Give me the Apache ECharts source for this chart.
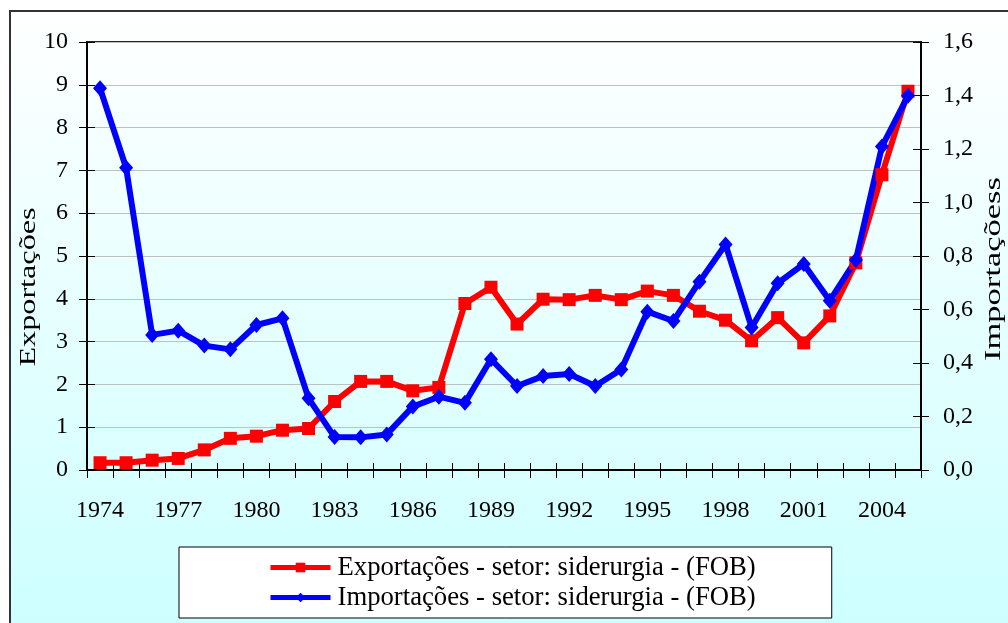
<!DOCTYPE html>
<html>
<head>
<meta charset="utf-8">
<script src="https://cdn.jsdelivr.net/npm/echarts@6/dist/echarts.min.js"></script>
<style>html,body{margin:0;padding:0;background:#fff}#c{width:1008px;height:623px}</style>
</head>
<body>
<div id="c"></div>
<script>
const years = [1974,1975,1976,1977,1978,1979,1980,1981,1982,1983,1984,1985,1986,1987,1988,1989,1990,1991,1992,1993,1994,1995,1996,1997,1998,1999,2000,2001,2002,2003,2004,2005];
const exportacoes = [0.17,0.17,0.23,0.27,0.47,0.74,0.79,0.93,0.97,1.60,2.07,2.07,1.85,1.93,3.89,4.27,3.41,3.99,3.98,4.08,3.98,4.18,4.08,3.71,3.50,3.02,3.56,2.97,3.60,4.84,6.90,8.85];
const importacoes = [1.427,1.13,0.505,0.521,0.465,0.451,0.542,0.567,0.268,0.123,0.122,0.133,0.237,0.274,0.251,0.414,0.314,0.351,0.359,0.314,0.376,0.592,0.557,0.704,0.843,0.533,0.698,0.770,0.633,0.785,1.209,1.399];
const leftTicks = [0,1,2,3,4,5,6,7,8,9,10];
const rightTicks = ['0,0','0,2','0,4','0,6','0,8','1,0','1,2','1,4','1,6'];
const nameExp = 'Exportações - setor: siderurgia - (FOB)';
const nameImp = 'Importações - setor: siderurgia - (FOB)';

const FONT = 'Liberation Serif';
const chart = echarts.init(document.getElementById('c'), null, {renderer:'canvas'});
chart.setOption({
  animation: false,
  textStyle: {fontFamily: FONT, color: '#000'},
  graphic: [
    {type:'rect', z:-10, silent:true, shape:{x:10,y:11,width:1010,height:630},
     style:{fill:new echarts.graphic.LinearGradient(0,0,0,1,[{offset:0,color:'#ffffff'},{offset:1,color:'#ccffff'}]), stroke:'#333', lineWidth:2}},
    {type:'text', x:29, y:287, rotation:Math.PI/2, scaleX:1.4, style:{text:'Exportações', font:'23px "Liberation Serif"', fill:'#000', align:'center', verticalAlign:'middle'}},
    {type:'text', x:994, y:269, rotation:Math.PI/2, scaleX:1.5, style:{text:'Importaçõess', font:'23px "Liberation Serif"', fill:'#000', align:'center', verticalAlign:'middle'}}
  ],
  grid: {left:87, top:42, right:87, bottom:153, show:true, borderColor:'#222', borderWidth:2, backgroundColor:'transparent'},
  legend: {
    orient:'vertical', left:179, top:547,
    padding:[7,76,7,89], itemGap:3, itemWidth:60, itemHeight:12,
    borderColor:'#000', borderWidth:1, backgroundColor:'#ffffff',
    lineStyle:{width:5},
    textStyle:{fontFamily:FONT, fontSize:26.7, lineHeight:26, color:'#000', padding:[0,0,0,2]},
    data:[nameExp, nameImp]
  },
  xAxis: [{
    type:'category', data:years, boundaryGap:true,
    axisLine:{lineStyle:{color:'#000', width:2}},
    axisTick:{show:true, length:8, lineStyle:{color:'#000'}, interval:0},
    axisLabel:{interval:2, margin:29, fontSize:24, fontFamily:FONT, color:'#000'},
    splitLine:{show:false}
  },{
    type:'category', data:years, boundaryGap:true, position:'bottom',
    axisLine:{show:false},
    axisTick:{show:true, inside:true, length:7, lineStyle:{color:'#000'}, interval:0},
    axisLabel:{show:false}, splitLine:{show:false}
  }],
  yAxis: [{
    type:'value', min:0, max:10, interval:1, position:'left',
    axisLine:{show:true, lineStyle:{color:'#000', width:2}},
    axisTick:{show:true, length:8, lineStyle:{color:'#000'}},
    axisLabel:{margin:19, fontSize:24, fontFamily:FONT, color:'#000',
      formatter:(v)=>String(leftTicks[Math.round(v)])},
    splitLine:{show:true, lineStyle:{color:'#c0c0c0', width:1}}
  },{
    type:'value', min:0, max:1.6, interval:0.2, position:'right',
    axisLine:{show:true, lineStyle:{color:'#000', width:2}},
    axisTick:{show:true, length:8, lineStyle:{color:'#000'}},
    axisLabel:{margin:22, fontSize:24, fontFamily:FONT, color:'#000',
      formatter:(v)=>rightTicks[Math.round(v/0.2)]},
    splitLine:{show:false}
  },{
    type:'value', min:0, max:10, interval:1, position:'left',
    axisLine:{show:false}, axisTick:{show:true, inside:true, length:8, lineStyle:{color:'#000'}},
    axisLabel:{show:false}, splitLine:{show:false}
  },{
    type:'value', min:0, max:1.6, interval:0.2, position:'right',
    axisLine:{show:false}, axisTick:{show:true, inside:true, length:8, lineStyle:{color:'#000'}},
    axisLabel:{show:false}, splitLine:{show:false}
  }],
  series: [{
    name:nameExp, type:'line', data:exportacoes, yAxisIndex:0,
    symbol:'rect', symbolSize:13, showAllSymbol:true,
    lineStyle:{color:'#ff0000', width:6}, itemStyle:{color:'#ff0000'}
  },{
    name:nameImp, type:'line', data:importacoes, yAxisIndex:1,
    symbol:'diamond', symbolSize:[14,16], showAllSymbol:true,
    lineStyle:{color:'#0000ff', width:6}, itemStyle:{color:'#0000ff'}
  }]
});
</script>
</body>
</html>
